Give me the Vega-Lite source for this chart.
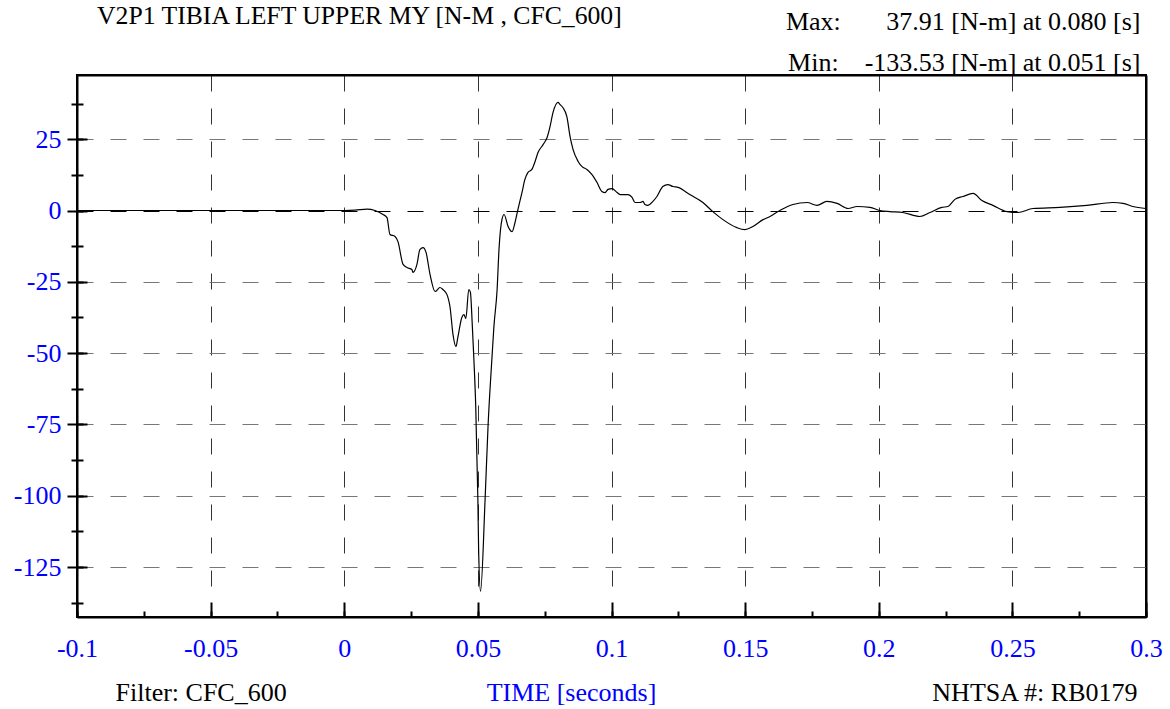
{
  "$schema": "https://vega.github.io/schema/vega-lite/v6.json",
  "width": 1069,
  "height": 542,
  "autosize": {"type": "none"},
  "padding": {"left": 77, "top": 75, "right": 24, "bottom": 92},
  "background": "white",
  "title": {
    "text": "V2P1 TIBIA LEFT UPPER MY [N-M , CFC_600]",
    "anchor": "start",
    "frame": "group",
    "font": "Liberation Serif",
    "fontSize": 25.7,
    "fontWeight": "normal",
    "color": "black",
    "offset": 0,
    "dx": 20,
    "dy": 22
  },
  "config": {
    "view": {"stroke": "black", "strokeWidth": 2},
    "axis": {
      "labelFont": "Liberation Serif",
      "labelFontSize": 26,
      "labelColor": "#0000FF",
      "titleFont": "Liberation Serif",
      "titleFontSize": 26,
      "titleFontWeight": "normal",
      "titleColor": "black",
      "tickColor": "black",
      "tickWidth": 2,
      "domainColor": "black",
      "domainWidth": 2
    }
  },
  "data": {
    "values": [
      {"t": -0.1, "v": 0}, {"t": -0.05, "v": 0}, {"t": 0, "v": 0}, {"t": 0.004, "v": 0.1},
      {"t": 0.0085, "v": 0.5}, {"t": 0.0115, "v": 0}, {"t": 0.0145, "v": -1.4}, {"t": 0.016, "v": -2.5},
      {"t": 0.0171, "v": -8.4}, {"t": 0.019, "v": -9.1}, {"t": 0.0201, "v": -10.9}, {"t": 0.022, "v": -18.9},
      {"t": 0.0235, "v": -20.0}, {"t": 0.0253, "v": -20.7}, {"t": 0.0257, "v": -21.7}, {"t": 0.0272, "v": -18.9},
      {"t": 0.0283, "v": -13.7}, {"t": 0.0295, "v": -13.0}, {"t": 0.0306, "v": -14.7}, {"t": 0.0321, "v": -22.4},
      {"t": 0.034, "v": -28.4}, {"t": 0.0358, "v": -27.0}, {"t": 0.0369, "v": -27.7}, {"t": 0.0384, "v": -29.4},
      {"t": 0.0396, "v": -34.0}, {"t": 0.0407, "v": -43.5}, {"t": 0.0418, "v": -47.7}, {"t": 0.0425, "v": -44.5},
      {"t": 0.044, "v": -37.5}, {"t": 0.0448, "v": -36.5}, {"t": 0.0455, "v": -37.9}, {"t": 0.0466, "v": -27.7},
      {"t": 0.0472, "v": -28.6}, {"t": 0.0479, "v": -40}, {"t": 0.0485, "v": -52}, {"t": 0.0492, "v": -68.7},
      {"t": 0.05, "v": -101.3}, {"t": 0.0503, "v": -119.9}, {"t": 0.051, "v": -133.53}, {"t": 0.0527, "v": -101.3},
      {"t": 0.0538, "v": -75.7}, {"t": 0.0553, "v": -51.2}, {"t": 0.056, "v": -40.7}, {"t": 0.0572, "v": -27.7},
      {"t": 0.0579, "v": -13.7}, {"t": 0.059, "v": -3.2}, {"t": 0.0598, "v": -1.4}, {"t": 0.0613, "v": -5.6},
      {"t": 0.0628, "v": -7.4}, {"t": 0.0639, "v": -4.2}, {"t": 0.065, "v": 0.4}, {"t": 0.0665, "v": 6.3},
      {"t": 0.0676, "v": 10.9}, {"t": 0.0687, "v": 13.3}, {"t": 0.0702, "v": 14.4}, {"t": 0.0714, "v": 17.2},
      {"t": 0.0725, "v": 20.3}, {"t": 0.0744, "v": 23.1}, {"t": 0.0759, "v": 25.6}, {"t": 0.077, "v": 29.4},
      {"t": 0.0781, "v": 34.3}, {"t": 0.08, "v": 37.91}, {"t": 0.0807, "v": 37.2}, {"t": 0.0818, "v": 36.1},
      {"t": 0.0833, "v": 32.9}, {"t": 0.0845, "v": 25.9}, {"t": 0.0856, "v": 21.4}, {"t": 0.0875, "v": 17.2},
      {"t": 0.089, "v": 15.4}, {"t": 0.0908, "v": 14.4}, {"t": 0.0927, "v": 12.6}, {"t": 0.0946, "v": 9.8},
      {"t": 0.0964, "v": 6.7}, {"t": 0.0976, "v": 6.3}, {"t": 0.0987, "v": 7.4}, {"t": 0.1002, "v": 7.7},
      {"t": 0.1021, "v": 6.3}, {"t": 0.1032, "v": 5.6}, {"t": 0.1062, "v": 5.6}, {"t": 0.1077, "v": 4.6},
      {"t": 0.1088, "v": 2.8}, {"t": 0.1107, "v": 2.8}, {"t": 0.1118, "v": 3.2}, {"t": 0.1125, "v": 2.1},
      {"t": 0.1136, "v": 1.8}, {"t": 0.1155, "v": 3.2}, {"t": 0.117, "v": 4.9}, {"t": 0.1192, "v": 8.4},
      {"t": 0.1211, "v": 9.1}, {"t": 0.123, "v": 8.4}, {"t": 0.1249, "v": 8.1}, {"t": 0.1293, "v": 5.6},
      {"t": 0.1342, "v": 2.8}, {"t": 0.1379, "v": -0.4}, {"t": 0.1417, "v": -3.2}, {"t": 0.1469, "v": -6.0},
      {"t": 0.1499, "v": -6.7}, {"t": 0.1529, "v": -5.6}, {"t": 0.1567, "v": -3.2}, {"t": 0.1593, "v": -2.1},
      {"t": 0.163, "v": 0}, {"t": 0.1679, "v": 2.1}, {"t": 0.1732, "v": 2.8}, {"t": 0.1769, "v": 1.8},
      {"t": 0.1806, "v": 3.2}, {"t": 0.1844, "v": 2.5}, {"t": 0.1885, "v": 0.7}, {"t": 0.1919, "v": 1.4},
      {"t": 0.1967, "v": 1.1}, {"t": 0.2004, "v": 0}, {"t": 0.2042, "v": -0.4}, {"t": 0.209, "v": -0.7},
      {"t": 0.2154, "v": -2.1}, {"t": 0.2192, "v": -0.7}, {"t": 0.2236, "v": 1.1}, {"t": 0.2259, "v": 1.4},
      {"t": 0.2285, "v": 3.9}, {"t": 0.2315, "v": 4.9}, {"t": 0.2353, "v": 6.0}, {"t": 0.2386, "v": 3.5},
      {"t": 0.2427, "v": 1.8}, {"t": 0.248, "v": -0.4}, {"t": 0.2521, "v": -0.7}, {"t": 0.2577, "v": 0.7},
      {"t": 0.2678, "v": 1.1}, {"t": 0.2779, "v": 1.8}, {"t": 0.2876, "v": 2.8}, {"t": 0.2914, "v": 2.5},
      {"t": 0.2951, "v": 1.4}, {"t": 0.3, "v": 0.7}
    ]
  },
  "layer": [
    {
      "mark": {"type": "line", "color": "black", "strokeWidth": 1.2, "interpolate": "monotone", "clip": true},
      "encoding": {
        "x": {
          "field": "t", "type": "quantitative",
          "scale": {"domain": [-0.1, 0.3], "nice": false, "zero": false},
          "axis": {
            "orient": "bottom",
            "values": [-0.1, -0.05, 0, 0.05, 0.1, 0.15, 0.2, 0.25, 0.3],
            "labelExpr": "'' + datum.value",
            "tickSize": -15,
            "labelPadding": 33,
            "labelFlush": false,
            "labelOverlap": false,
            "grid": true,
            "gridColor": "#333333",
            "gridDash": [16, 17],
            "gridWidth": 1,
            "title": "TIME [seconds]",
            "titleColor": "#0000FF",
            "titleX": 494,
            "titleY": 75,
            "titleAlign": "center",
            "titleBaseline": "middle"
          }
        },
        "y": {
          "field": "v", "type": "quantitative",
          "scale": {"domain": [-142.5, 47.5], "nice": false, "zero": false},
          "axis": {
            "orient": "left",
            "values": [-125, -100, -75, -50, -25, 0, 25],
            "labelExpr": "'' + datum.value",
            "tickSize": 10,
            "labelPadding": 6,
            "labelOverlap": false,
            "grid": true,
            "gridColor": {"condition": {"test": "datum.value === 0", "value": "black"}, "value": "#777777"},
            "gridDash": [16, 17],
            "gridWidth": 1,
            "title": "Filter: CFC_600",
            "titleAngle": 0,
            "titleX": 38,
            "titleY": 617,
            "titleAlign": "left",
            "titleBaseline": "middle"
          }
        }
      }
    },
    {
      "mark": {"type": "point", "opacity": 0},
      "encoding": {
        "x": {
          "field": "t", "type": "quantitative",
          "axis": {
            "orient": "top",
            "labels": false,
            "ticks": false,
            "grid": false,
            "title": ["Max:\u00a0\u00a0\u00a0\u00a0\u00a0\u00a0\u00a037.91 [N-m] at 0.080 [s]", "Min:\u00a0\u00a0\u00a0\u00a0-133.53 [N-m] at 0.051 [s]"],
            "titleX": 1063,
            "titleY": -46,
            "titleAlign": "right",
            "titleBaseline": "alphabetic",
            "titleLineHeight": 41
          }
        },
        "y": {
          "field": "v", "type": "quantitative",
          "axis": {
            "orient": "right",
            "labels": false,
            "ticks": false,
            "grid": false,
            "title": "NHTSA #: RB0179",
            "titleAngle": 0,
            "titleX": -9,
            "titleY": 617,
            "titleAlign": "right",
            "titleBaseline": "middle"
          }
        }
      }
    },
    {
      "mark": {"type": "point", "opacity": 0},
      "encoding": {
        "x": {
          "field": "t", "type": "quantitative",
          "axis": {
            "orient": "bottom",
            "values": [-0.1, -0.075, -0.05, -0.025, 0, 0.025, 0.05, 0.075, 0.1, 0.125, 0.15, 0.175, 0.2, 0.225, 0.25, 0.275, 0.3],
            "labels": false,
            "tickSize": -6,
            "domain": false,
            "grid": false,
            "title": null
          }
        },
        "y": {
          "field": "v", "type": "quantitative",
          "axis": {
            "orient": "left",
            "values": [-137.5, -125, -112.5, -100, -87.5, -75, -62.5, -50, -37.5, -25, -12.5, 0, 12.5, 25, 37.5],
            "labels": false,
            "tickSize": -6,
            "domain": false,
            "grid": false,
            "title": null
          }
        }
      }
    },
    {
      "mark": {"type": "point", "opacity": 0},
      "encoding": {
        "x": {"field": "t", "type": "quantitative", "axis": null},
        "y": {
          "field": "v", "type": "quantitative",
          "axis": {
            "orient": "left",
            "values": [-137.5, -112.5, -87.5, -62.5, -37.5, -12.5, 12.5, 37.5],
            "labels": false,
            "tickSize": 6,
            "domain": false,
            "grid": false,
            "title": null
          }
        }
      }
    },
    {
      "mark": {"type": "point", "opacity": 0},
      "encoding": {
        "x": {"field": "t", "type": "quantitative", "axis": null},
        "y": {
          "field": "v", "type": "quantitative",
          "axis": {
            "orient": "left",
            "values": [-125, -100, -75, -50, -25, 0, 25],
            "labels": false,
            "tickSize": -10,
            "domain": false,
            "grid": false,
            "title": null
          }
        }
      }
    }
  ],
  "resolve": {"axis": {"x": "independent", "y": "independent"}}
}
